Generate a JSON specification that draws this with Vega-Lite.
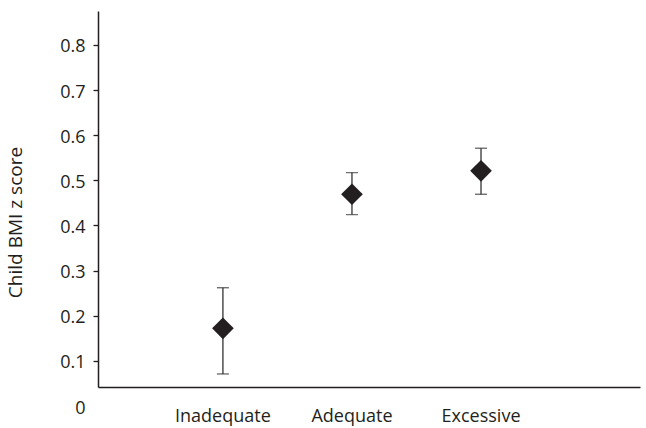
{
  "$schema": "https://vega.github.io/schema/vega-lite/v6.json",
  "autosize": "none",
  "width": 542,
  "height": 395,
  "padding": {"left": 98, "top": 11, "right": 6, "bottom": 22},
  "background": "white",
  "config": {
    "view": {"stroke": null},
    "font": "Open Sans",
    "axis": {"labelFont": "Open Sans", "titleFont": "Open Sans", "labelColor": "#231f20", "titleColor": "#231f20", "domainColor": "#231f20", "tickColor": "#231f20", "grid": false}
  },
  "data": {
    "values": [
      {"group": "Inadequate", "mean": 0.172, "lo": 0.071, "hi": 0.262},
      {"group": "Adequate", "mean": 0.469, "lo": 0.424, "hi": 0.517},
      {"group": "Excessive", "mean": 0.521, "lo": 0.469, "hi": 0.571}
    ]
  },
  "encoding": {
    "x": {
      "field": "group",
      "type": "nominal",
      "sort": ["Inadequate", "Adequate", "Excessive"],
      "scale": {"type": "band", "paddingInner": 0.8, "paddingOuter": 1, "align": 0.434},
      "axis": {"title": null, "labelAngle": 0, "ticks": false, "tickSize": 0, "offset": -19, "labelPadding": 20, "labelFontSize": 18, "domainWidth": 1.5}
    }
  },
  "layer": [
    {
      "mark": {"type": "rule", "color": "#333333", "strokeWidth": 1.3},
      "encoding": {
        "y": {
          "field": "lo",
          "type": "quantitative",
          "scale": {"domain": [0, 0.875], "nice": false, "zero": false},
          "axis": {
            "title": "Child BMI z score",
            "titleFontSize": 19,
            "titleFontWeight": "normal",
            "titleX": -73,
            "titleY": 211,
            "values": [0, 0.1, 0.2, 0.3, 0.4, 0.5, 0.6, 0.7, 0.8],
            "format": "~g",
            "labelFontSize": 18,
            "labelPadding": 8,
            "labelOffset": 2,
            "tickSize": 5,
            "tickWidth": 1.3,
            "tickOpacity": {"condition": {"test": "datum.value === 0", "value": 0}, "value": 1},
            "domainWidth": 1.5,
            "domainDash": [376, 19],
            "domainDashOffset": 376
          }
        },
        "y2": {"field": "hi"}
      }
    },
    {
      "mark": {"type": "tick", "orient": "horizontal", "color": "#333333", "size": 12, "thickness": 1.4},
      "encoding": {"y": {"field": "lo", "type": "quantitative"}}
    },
    {
      "mark": {"type": "tick", "orient": "horizontal", "color": "#333333", "size": 12, "thickness": 1.4},
      "encoding": {"y": {"field": "hi", "type": "quantitative"}}
    },
    {
      "mark": {"type": "point", "shape": "diamond", "filled": true, "size": 470, "color": "#231f20", "opacity": 1},
      "encoding": {"y": {"field": "mean", "type": "quantitative"}}
    }
  ]
}
